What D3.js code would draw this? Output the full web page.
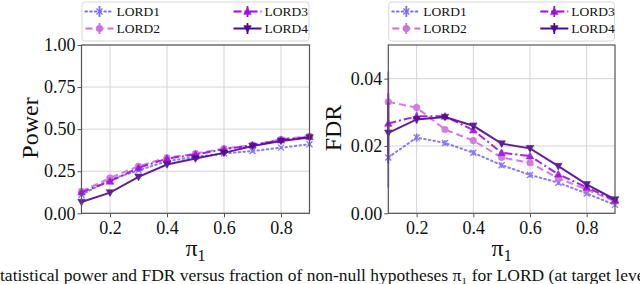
<!DOCTYPE html>
<html>
<head>
<meta charset="utf-8">
<script src="https://cdn.jsdelivr.net/npm/d3@7"></script>
<style>
  body { margin: 0; background: #fff; }
  svg { display: block; }
  text { font-family: "Liberation Serif", "DejaVu Serif", serif; fill: #111; }
</style>
</head>
<body>
<svg id="chart" width="640" height="284"></svg>
<script>
const pi1 = [0.1, 0.2, 0.3, 0.4, 0.5, 0.6, 0.7, 0.8, 0.9];
const methods = ['LORD1', 'LORD2', 'LORD3', 'LORD4'];

const powerLORD1 = [0.11, 0.20, 0.255, 0.31, 0.335, 0.355, 0.37, 0.39, 0.41];
const powerLORD2 = [0.13, 0.21, 0.28, 0.33, 0.355, 0.385, 0.405, 0.44, 0.458];
const powerLORD3 = [0.125, 0.19, 0.27, 0.325, 0.35, 0.38, 0.405, 0.435, 0.455];
const powerLORD4 = [0.067, 0.123, 0.216, 0.29, 0.325, 0.359, 0.40, 0.43, 0.45];
const powerErr = [0.012, 0.01, 0.01, 0.01, 0.01, 0.01, 0.01, 0.01, 0.01];

const fdrLORD1 = [0.0166, 0.0225, 0.0209, 0.018, 0.0143, 0.0114, 0.0091, 0.0059, 0.0025];
const fdrLORD2 = [0.0331, 0.0314, 0.0249, 0.0216, 0.0166, 0.015, 0.0104, 0.0071, 0.0035];
const fdrLORD3 = [0.0267, 0.0288, 0.0288, 0.0247, 0.018, 0.017, 0.0116, 0.0077, 0.0038];
const fdrLORD4 = [0.0239, 0.0279, 0.0286, 0.026, 0.0207, 0.0193, 0.014, 0.0086, 0.0041];
const fdrErr = [0.009, 0.0012, 0.0008, 0.0008, 0.0008, 0.0008, 0.0007, 0.0006, 0.0005];

const xTicks = [0.2, 0.4, 0.6, 0.8];
const powerTicks = [0, 0.25, 0.5, 0.75, 1.0];
const fdrTicks = [0, 0.02, 0.04];

const colors = ['#7b6cf2', '#cf6fdc', '#9a10dc', '#4e0a8c'];
const dashes = ['1.5,3.2', '7,4', '8,3,2,3', null];
const markers = ['x', 'o', '^', 'v'];

const serif = '"Liberation Serif", "DejaVu Serif", serif';
const svg = d3.select('#chart');

function markerPath(type, size) {
  const s = size;
  if (type === 'x') {
    return `M${-s},${-s}L${s},${s}M${-s},${s}L${s},${-s}`;
  }
  if (type === 'o') return d3.symbol(d3.symbolCircle, Math.PI * s * s)();
  const h = s * 1.15;
  if (type === '^') return `M0,${-h}L${h},${h * 0.75}L${-h},${h * 0.75}Z`;
  return `M0,${h}L${h},${-h * 0.75}L${-h},${-h * 0.75}Z`;
}

function drawMarker(g, type, color, cx, cy) {
  const p = g.append('path')
    .attr('transform', `translate(${cx},${cy})`)
    .attr('d', markerPath(type, type === 'x' ? 3 : 3.3));
  if (type === 'x') {
    p.attr('fill', 'none').attr('stroke', color).attr('stroke-width', 1.3);
  } else {
    p.attr('fill', color).attr('stroke', color).attr('stroke-width', 0.6);
  }
}

function drawPanel(cfg) {
  const g = svg.append('g');
  const x = d3.scaleLinear().domain([0.1, 0.9]).range([cfg.left, cfg.right]);
  const y = d3.scaleLinear().domain(cfg.yDomain).range([213.3, 45]);

  // grid
  g.append('g')
    .selectAll('line')
    .data(xTicks)
    .join('line')
    .attr('x1', d => x(d)).attr('x2', d => x(d))
    .attr('y1', 45).attr('y2', 213.3)
    .attr('stroke', '#d4d4d4').attr('stroke-width', 1);
  g.append('g')
    .selectAll('line')
    .data(cfg.yTicks)
    .join('line')
    .attr('x1', cfg.left).attr('x2', cfg.right)
    .attr('y1', d => y(d)).attr('y2', d => y(d))
    .attr('stroke', '#d4d4d4').attr('stroke-width', 1);

  // series
  cfg.series.forEach((vals, i) => {
    const sg = g.append('g').attr('opacity', 0.9);
    const line = d3.line().x((d, j) => x(pi1[j])).y(d => y(d));
    sg.append('path')
      .attr('d', line(vals))
      .attr('fill', 'none')
      .attr('stroke', colors[i])
      .attr('stroke-width', 2)
      .attr('stroke-dasharray', dashes[i])
      .attr('stroke-linecap', i === 0 ? 'round' : 'butt');
    vals.forEach((v, j) => {
      sg.append('line')
        .attr('x1', x(pi1[j])).attr('x2', x(pi1[j]))
        .attr('y1', y(v - cfg.err[j])).attr('y2', y(v + cfg.err[j]))
        .attr('stroke', colors[i]).attr('stroke-width', 1.8);
      drawMarker(sg, markers[i], colors[i], x(pi1[j]), y(v));
    });
  });

  // spines
  g.append('rect')
    .attr('x', cfg.left).attr('y', 45)
    .attr('width', cfg.right - cfg.left).attr('height', 213.3 - 45)
    .attr('fill', 'none').attr('stroke', '#555').attr('stroke-width', 1.2);

  // axes
  const xAxis = d3.axisBottom(x).tickValues(xTicks).tickSize(4).tickPadding(4)
    .tickFormat(d3.format('.1f'));
  g.append('g').attr('transform', 'translate(0,213.3)').call(xAxis)
    .attr('font-family', serif)
    .call(a => a.select('.domain').remove())
    .call(a => a.selectAll('line').attr('stroke', '#555'))
    .call(a => a.selectAll('text').attr('font-size', 18).attr('fill', '#111'));
  const yAxis = d3.axisLeft(y).tickValues(cfg.yTicks).tickSize(4).tickPadding(2)
    .tickFormat(d3.format('.2f'));
  g.append('g').attr('transform', `translate(${cfg.left},0)`).call(yAxis)
    .attr('font-family', serif)
    .call(a => a.select('.domain').remove())
    .call(a => a.selectAll('line').attr('stroke', '#555'))
    .call(a => a.selectAll('text').attr('font-size', 18).attr('fill', '#111'));

  // labels
  g.append('text')
    .attr('transform', `translate(${cfg.ylabelX},${cfg.ylabelY}) rotate(-90)`)
    .attr('text-anchor', 'middle')
    .attr('font-size', 24)
    .text(cfg.ylabel);
  const xl = g.append('text')
    .attr('x', (cfg.left + cfg.right) / 2)
    .attr('y', 256)
    .attr('text-anchor', 'middle')
    .attr('font-size', 24);
  xl.append('tspan').text('π');
  xl.append('tspan').attr('font-size', 16).attr('dy', 5).text('1');

  // legend
  const lg = g.append('g');
  lg.append('rect')
    .attr('x', cfg.left + 0.5).attr('y', 2)
    .attr('width', cfg.right - cfg.left - 1).attr('height', 39)
    .attr('rx', 3)
    .attr('fill', '#fff').attr('stroke', '#d8d8d8').attr('stroke-width', 1);
  methods.forEach((m, i) => {
    const col = i < 2 ? 0 : 1;
    const row = i % 2;
    const hx = cfg.left + 4 + col * (cfg.legendCol2);
    const hy = row === 0 ? 11.5 : 28.5;
    const item = lg.append('g');
    item.append('line')
      .attr('x1', hx).attr('x2', hx + 28)
      .attr('y1', hy).attr('y2', hy)
      .attr('stroke', colors[i]).attr('stroke-width', 2)
      .attr('stroke-dasharray', dashes[i])
      .attr('stroke-linecap', i === 0 ? 'round' : 'butt');
    item.append('line')
      .attr('x1', hx + 14).attr('x2', hx + 14)
      .attr('y1', hy - 5.5).attr('y2', hy + 5.5)
      .attr('stroke', colors[i]).attr('stroke-width', 1.8);
    drawMarker(item, markers[i], colors[i], hx + 14, hy);
    item.append('text')
      .attr('x', hx + 31).attr('y', hy + 4.5)
      .attr('font-size', 13.5)
      .text(m);
  });
}

drawPanel({
  left: 81.5, right: 309.5,
  yDomain: [0, 1], yTicks: powerTicks,
  series: [powerLORD1, powerLORD2, powerLORD3, powerLORD4],
  err: powerErr,
  ylabel: 'Power', ylabelX: 38, ylabelY: 128,
  legendCol2: 148
});

drawPanel({
  left: 388.3, right: 615,
  yDomain: [0, 0.05], yTicks: fdrTicks,
  series: [fdrLORD1, fdrLORD2, fdrLORD3, fdrLORD4],
  err: fdrErr,
  ylabel: 'FDR', ylabelX: 341, ylabelY: 128,
  legendCol2: 148
});

svg.append('text')
  .attr('x', 0).attr('y', 281)
  .attr('font-size', 17.5)
  .text('tatistical power and FDR versus fraction of non-null hypotheses π₁ for LORD (at target level');
</script>
</body>
</html>
